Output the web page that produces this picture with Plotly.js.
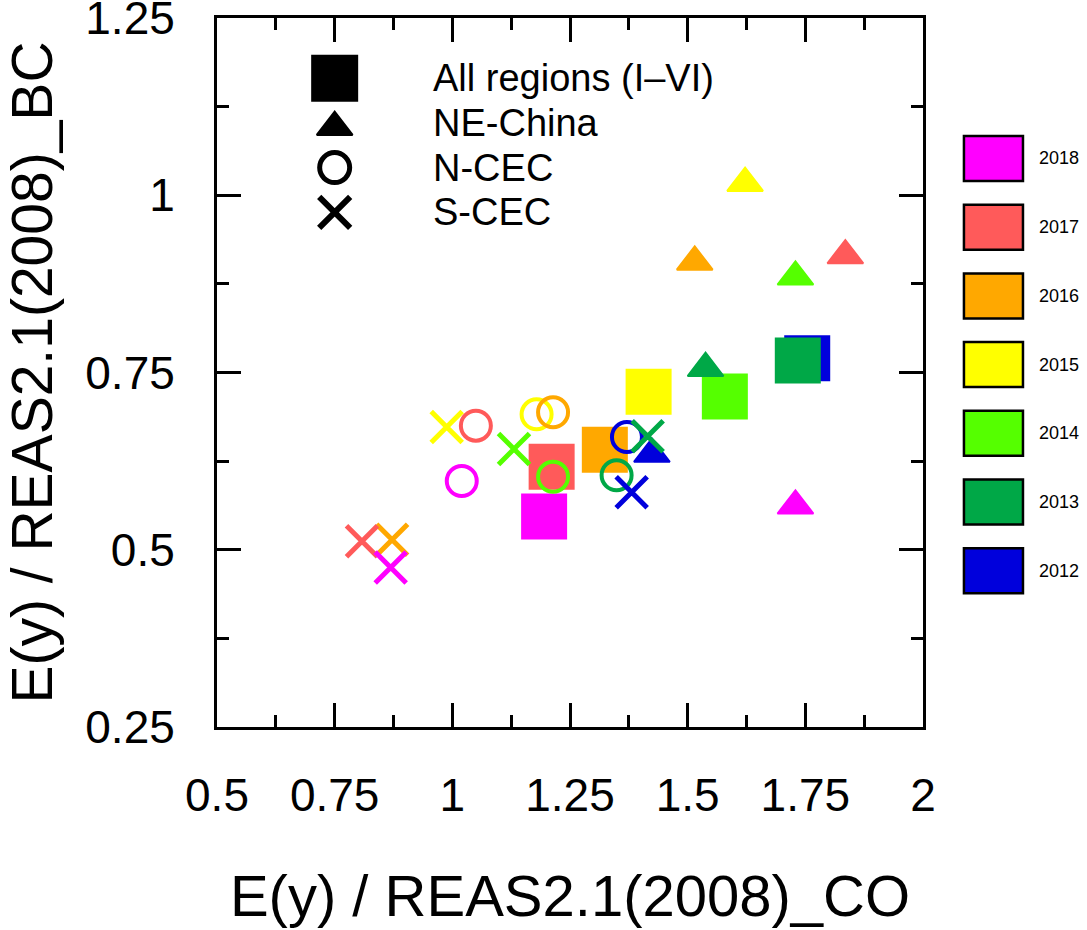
<!DOCTYPE html>
<html>
<head>
<meta charset="utf-8">
<script src="https://cdn.plot.ly/plotly-3.0.1.min.js"></script>
<style>
  body { margin: 0; background: #fff; }
  #chart { width: 1087px; height: 930px; }
</style>
</head>
<body>
<div id="chart"></div>
<script>
// years in drawing order (oldest first), legend shows them newest first
var years = ['2012', '2013', '2014', '2015', '2016', '2017', '2018'];
var yearColors = ['#0000DC', '#00A847', '#55FF00', '#FFFF00', '#FFA800', '#FF5A5A', '#FF00FF'];

// All regions (I-VI)
var allX = [1.754, 1.734, 1.579, 1.417, 1.324, 1.211, 1.195];
var allY = [0.770, 0.767, 0.716, 0.723, 0.641, 0.617, 0.547];
// NE-China
var neX = [1.424, 1.538, 1.729, 1.622, 1.515, 1.835, 1.729];
var neY = [0.635, 0.756, 0.885, 1.017, 0.906, 0.915, 0.562];
// N-CEC
var ncX = [1.371, 1.349, 1.214, 1.179, 1.214, 1.050, 1.020];
var ncY = [0.659, 0.605, 0.603, 0.691, 0.694, 0.675, 0.597];
// S-CEC
var scX = [1.381, 1.415, 1.131, 0.988, 0.872, 0.808, 0.869];
var scY = [0.581, 0.660, 0.642, 0.673, 0.514, 0.512, 0.475];

var regionNames = ['All regions (I\u2013VI)', 'NE-China', 'N-CEC', 'S-CEC'];

var xTickVals = [0.5, 0.75, 1, 1.25, 1.5, 1.75, 2];
var xTickText = ['0.5', '0.75', '1', '1.25', '1.5', '1.75', '2'];
var yTickVals = [0.25, 0.5, 0.75, 1, 1.25];
var yTickText = ['0.25', '0.5', '0.75', '1', '1.25'];

var font = 'Liberation Sans, Arial, sans-serif';

var squares = {
  x: allX, y: allY, type: 'scatter', mode: 'markers',
  marker: {symbol: 'square', size: 46, color: yearColors, opacity: 1, line: {width: 0}}
};
var triangles = {
  x: neX, y: neY, type: 'scatter', mode: 'markers',
  marker: {symbol: 'triangle-up', size: 31, color: yearColors, opacity: 1, line: {width: 2, color: yearColors}}
};
var circles = {
  x: ncX, y: ncY, type: 'scatter', mode: 'markers',
  marker: {symbol: 'circle-open', size: 30, color: yearColors, opacity: 1, line: {width: 4}}
};
var crosses = {
  x: scX, y: scY, type: 'scatter', mode: 'markers',
  marker: {symbol: 'x-thin-open', size: 31, color: yearColors, opacity: 1, line: {width: 5}}
};

// symbol key in the upper left corner
var keyX = 0.75, keyTop = 1.165, keyStep = 0.063;
var keyY = regionNames.map(function (n, i) { return keyTop - i * keyStep; });
keyY[1] -= 0.006;
var keyTrace = {
  x: regionNames.map(function () { return keyX; }), y: keyY,
  type: 'scatter', mode: 'markers', hoverinfo: 'skip',
  marker: {
    symbol: ['square', 'triangle-up', 'circle-open', 'x-thin-open'],
    size: [47, 31, 30, 31], color: 'black', opacity: 1,
    line: {width: [0, 2, 5, 6], color: 'black'}
  }
};

var annotations = regionNames.map(function (n, i) {
  return {
    text: n, x: 0.955, y: keyTop - i * keyStep, xref: 'x', yref: 'y',
    xanchor: 'left', yanchor: 'middle', showarrow: false,
    font: {family: font, size: 38, color: 'black'}
  };
});

// year colour boxes to the right of the plot
var shapes = [];
var boxTop = 0.8336, boxH = 0.0635, boxStep = 0.0969;
years.forEach(function (yr, k) {
  var row = years.length - 1 - k;
  var top = boxTop - row * boxStep;
  shapes.push({
    type: 'rect', xref: 'paper', yref: 'paper',
    x0: 1.058, x1: 1.1416, y0: top - boxH, y1: top,
    fillcolor: yearColors[k], line: {color: 'black', width: 2.5}
  });
  annotations.push({
    text: yr, xref: 'paper', yref: 'paper', x: 1.161, y: top - boxH / 2,
    xanchor: 'left', yanchor: 'middle', showarrow: false,
    font: {family: font, size: 18, color: 'black'}
  });
});

var axisCommon = {
  showline: true, linewidth: 3, linecolor: 'black', mirror: 'ticks',
  ticks: 'inside', ticklen: 24, tickwidth: 3, tickcolor: 'black',
  showgrid: false, zeroline: false, tickmode: 'array',
  ticklabeloverflow: 'allow',
  tickfont: {family: font, size: 46, color: 'black'}
};

var layout = {
  width: 1087, height: 930,
  margin: {l: 217, r: 164, t: 18, b: 203},
  paper_bgcolor: 'white', plot_bgcolor: 'white',
  showlegend: false,
  xaxis: Object.assign({}, axisCommon, {
    range: [0.5, 2], tickvals: xTickVals, ticktext: xTickText,
    ticklabelstandoff: 26,
    minor: {tickmode: 'linear', tick0: 0.5, dtick: 0.125, ticks: 'inside', ticklen: 12, tickwidth: 3, tickcolor: 'black'},
    title: {text: 'E(y) / REAS2.1(2008)_CO', font: {family: font, size: 58, color: 'black'}, standoff: 56}
  }),
  yaxis: Object.assign({}, axisCommon, {
    range: [0.25, 1.25], tickvals: yTickVals, ticktext: yTickText,
    ticklabelstandoff: 30,
    minor: {tickmode: 'linear', tick0: 0.25, dtick: 0.125, ticks: 'inside', ticklen: 12, tickwidth: 3, tickcolor: 'black'},
    title: {text: 'E(y) / REAS2.1(2008)_BC', font: {family: font, size: 57, color: 'black'}, standoff: 30}
  }),
  shapes: shapes,
  annotations: annotations
};

Plotly.newPlot('chart', [squares, triangles, circles, crosses, keyTrace], layout, {displayModeBar: false, staticPlot: true});
</script>
</body>
</html>
